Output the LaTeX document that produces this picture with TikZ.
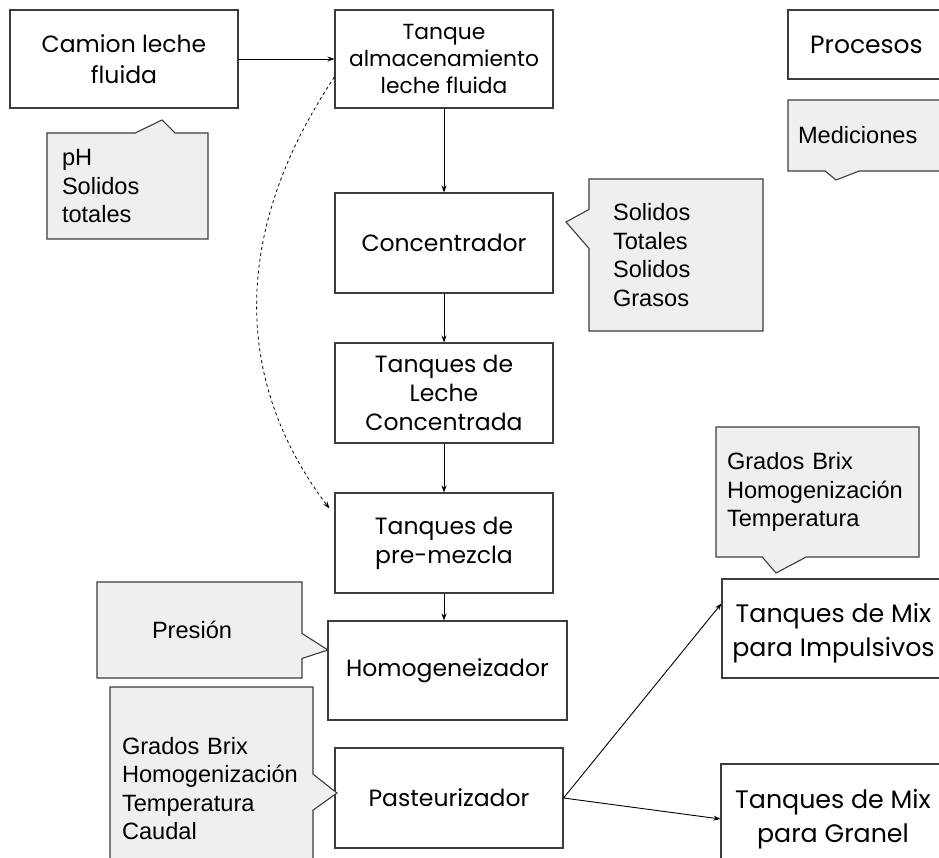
\documentclass[tikz,border=0pt]{standalone}
\usepackage{fontspec}
\setmainfont{Liberation Sans}
\newfontfamily\boxfont{Poppins}
\newfontfamily\medfont{Liberation Sans}
\usetikzlibrary{arrows.meta,shapes.callouts}
\definecolor{calloutgray}{HTML}{EFEFEF}
\definecolor{edgegray}{HTML}{3C3C3C}
\begin{document}
\begin{tikzpicture}[
  x=1pt, y=-1pt,
  proceso/.style={draw=edgegray, line width=1.1pt, fill=white, align=center, inner sep=0pt,
    font=\boxfont\fontsize{23.5}{29}\selectfont},
  medicion/.style={rectangle callout, draw=edgegray, line width=1.1pt, fill=calloutgray,
    align=left, inner ysep=0pt, font=\medfont\fontsize{23.6}{28.5}\selectfont},
  flecha/.style={-{Stealth[length=7pt,width=5pt]}, line width=0.9pt, draw=black}
]
  \clip (0,0) rectangle (939,858);
  \fill[white] (0,0) rectangle (939,858);

  % procesos
  \node[proceso, minimum width=228pt, minimum height=98pt, font=\boxfont\fontsize{23.5}{31}\selectfont] (camion) at (124,59) {Camion leche\\fluida};
  \node[proceso, minimum width=218pt, minimum height=98pt, font=\boxfont\fontsize{21.8}{27}\selectfont] (tanque) at (444,59) {Tanque\\almacenamiento\\leche fluida};
  \node[proceso, minimum width=218pt, minimum height=100pt] (concentrador) at (444,243) {Concentrador};
  \node[proceso, minimum width=218pt, minimum height=100pt] (lecheconc) at (444,393) {Tanques de\\Leche\\Concentrada};
  \node[proceso, minimum width=218pt, minimum height=100pt] (premezcla) at (444,543) {Tanques de\\pre-mezcla};
  \node[proceso, minimum width=239pt, minimum height=99pt] (homog) at (447.5,670.5) {Homogeneizador};
  \node[proceso, minimum width=228pt, minimum height=100pt] (pasteur) at (449,798) {Pasteurizador};
  \node[proceso, minimum width=223pt, minimum height=99pt, font=\boxfont\fontsize{25.3}{34}\selectfont] (mixImp) at (833.5,628.5) {\rule{0pt}{29pt}Tanques de Mix\\para Impulsivos};
  \node[proceso, minimum width=224pt, minimum height=110pt, font=\boxfont\fontsize{25.3}{34}\selectfont] (mixGranel) at (833,819) {Tanques de Mix\\para Granel};
  \node[proceso, minimum width=157pt, minimum height=69pt, font=\boxfont\fontsize{25}{29}\selectfont] (procesos) at (866.5,44.5) {Procesos};

  % mediciones
  \node[medicion, inner xsep=15pt, text width=131pt, minimum height=106pt,
    callout absolute pointer={(162,120)}, callout pointer width=40pt] (medCamion) at (127.5,186) {pH\\Solidos\\totales};
  \node[medicion, inner xsep=24pt, text width=126pt, minimum height=152pt,
    callout absolute pointer={(566,222)}, callout pointer width=39pt] (medConc) at (676,255) {Solidos\\Totales\\Solidos\\Grasos};
  \node[medicion, inner xsep=55pt, text width=95pt, minimum height=96pt,
    callout absolute pointer={(328,650)}, callout pointer width=25pt] (medHomog) at (199.5,630) {Presión};
  \node[medicion, inner xsep=12pt, text width=179pt, minimum height=203pt,
    callout absolute pointer={(337,793)}, callout pointer width=36pt] (medPasteur) at (211.5,788.5) {Grados Brix\\Homogenización\\Temperatura\\Caudal};
  \node[medicion, inner xsep=11pt, text width=181pt, minimum height=130pt,
    callout absolute pointer={(776,573)}, callout pointer width=44pt] (medMix) at (817.5,492) {Grados Brix\\Homogenización\\Temperatura};
  \node[medicion, inner xsep=10pt, text width=137pt, minimum height=71pt,
    callout absolute pointer={(836,180)}, callout pointer width=34pt] (mediciones) at (866.5,135.5) {Mediciones};

  % flujo
  \draw[flecha] (camion) -- (tanque);
  \draw[flecha] (tanque) -- (concentrador);
  \draw[flecha] (concentrador) -- (lecheconc);
  \draw[flecha] (lecheconc) -- (premezcla);
  \draw[flecha] (premezcla.south) -- (premezcla.south |- homog.north);
  \draw[flecha] (pasteur.east) -- ([yshift=25pt]mixImp.west);
  \draw[flecha] (pasteur.east) -- (mixGranel.west);
  \draw[flecha, dashed, line width=0.8pt] ([yshift=-18pt]tanque.west) .. controls (232,230) and (232,380) .. ([xshift=-5pt,yshift=-16pt]premezcla.north west);

\end{tikzpicture}
\end{document}
